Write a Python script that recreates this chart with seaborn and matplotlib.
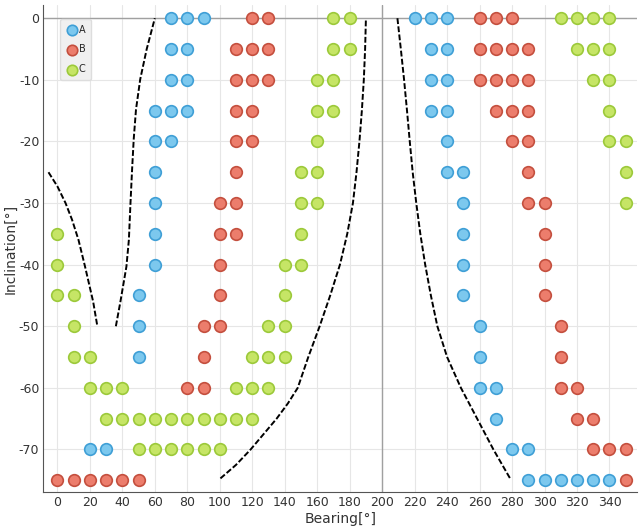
import matplotlib
matplotlib.use("Agg")
import matplotlib.pyplot as plt
import seaborn as sns
import pandas as pd

# Point data: (bearing, inclination)
a_bearing = [70, 80, 90, 220, 230, 240,
             70, 80, 230, 240,
             70, 80, 230, 240,
             60, 70, 80, 230, 240,
             60, 70, 240,
             60, 240, 250,
             60, 250,
             60, 250,
             60, 250,
             50, 250,
             50, 260,
             50, 260,
             260, 270,
             270,
             20, 30, 280, 290,
             290, 300, 310, 320, 330, 340]
a_incl = [0, 0, 0, 0, 0, 0,
          -5, -5, -5, -5,
          -10, -10, -10, -10,
          -15, -15, -15, -15, -15,
          -20, -20, -20,
          -25, -25, -25,
          -30, -30,
          -35, -35,
          -40, -40,
          -45, -45,
          -50, -50,
          -55, -55,
          -60, -60,
          -65,
          -70, -70, -70, -70,
          -75, -75, -75, -75, -75, -75]

b_bearing = [120, 130, 260, 270, 280,
             110, 120, 130, 260, 270, 280, 290,
             110, 120, 130, 260, 270, 280, 290,
             110, 120, 270, 280, 290,
             110, 120, 280, 290,
             110, 290,
             100, 110, 290, 300,
             100, 110, 300,
             100, 300,
             100, 300,
             90, 100, 310,
             90, 310,
             80, 90, 310, 320,
             320, 330,
             330, 340, 350,
             0, 10, 20, 30, 40, 50, 350]
b_incl = [0, 0, 0, 0, 0,
          -5, -5, -5, -5, -5, -5, -5,
          -10, -10, -10, -10, -10, -10, -10,
          -15, -15, -15, -15, -15,
          -20, -20, -20, -20,
          -25, -25,
          -30, -30, -30, -30,
          -35, -35, -35,
          -40, -40,
          -45, -45,
          -50, -50, -50,
          -55, -55,
          -60, -60, -60, -60,
          -65, -65,
          -70, -70, -70,
          -75, -75, -75, -75, -75, -75, -75]

c_bearing = [170, 180, 310, 320, 330, 340,
             170, 180, 320, 330, 340,
             160, 170, 330, 340,
             160, 170, 340,
             160, 340, 350,
             150, 160, 350,
             150, 160, 350,
             0, 150,
             0, 140, 150,
             0, 10, 140,
             10, 130, 140,
             10, 20, 120, 130, 140,
             20, 30, 40, 110, 120, 130,
             30, 40, 50, 60, 70, 80, 90, 100, 110, 120,
             50, 60, 70, 80, 90, 100]
c_incl = [0, 0, 0, 0, 0, 0,
          -5, -5, -5, -5, -5,
          -10, -10, -10, -10,
          -15, -15, -15,
          -20, -20, -20,
          -25, -25, -25,
          -30, -30, -30,
          -35, -35,
          -40, -40, -40,
          -45, -45, -45,
          -50, -50, -50,
          -55, -55, -55, -55, -55,
          -60, -60, -60, -60, -60, -60,
          -65, -65, -65, -65, -65, -65, -65, -65, -65, -65,
          -70, -70, -70, -70, -70, -70]

# Dashed boundary curves
curve1_x = [-5.5, 0, 5, 9, 13, 17, 22, 24.6]
curve1_y = [-25, -27.3, -30, -32.7, -36, -40.3, -46, -50]
curve2_x = [36, 38.8, 42.5, 44, 45, 46, 47, 48.4, 51, 55, 60]
curve2_y = [-50, -46, -40.3, -36, -30, -24.5, -19.6, -14.8, -9.9, -5, 0]
curve3_x = [100.4, 110, 119, 127, 135, 142, 148, 154.5, 161.5, 168, 174,
            178.5, 182, 184.2, 186, 187.5, 188.7, 189.5, 190]
curve3_y = [-74.7, -72.5, -70, -67.5, -65, -62.5, -60, -55, -50, -45, -40,
            -35, -30, -25, -20, -15, -10, -5, 0]
curve4_x = [209.4, 211.5, 213.5, 215.3, 217, 218.8, 221, 223.5, 226.5, 230,
            234, 240, 248.5, 258.5, 268.5, 279]
curve4_y = [0, -5, -10, -15, -20, -25, -30, -35, -40, -45,
            -50, -55, -60, -65, -70, -74.8]

series = [
    ("A", a_bearing, a_incl, "#7cc8ee", "#3f9fd6"),
    ("B", b_bearing, b_incl, "#ec7d6c", "#c44f3e"),
    ("C", c_bearing, c_incl, "#c6e566", "#9cc93a"),
]

sns.set_style("whitegrid", {"grid.color": "#e6e6e6", "axes.edgecolor": "#555555"})
plt.rcParams['font.family'] = ['DejaVu Sans']
plt.rcParams['axes.unicode_minus'] = False

fig = plt.figure(figsize=(6.39, 5.29), dpi=100)
ax = fig.add_axes([0.068, 0.07, 0.929, 0.92])

ax.axhline(0, color="#a0a0a0", lw=1, zorder=1)
ax.axvline(200, color="#a0a0a0", lw=1, zorder=1)

for name, bx, by, fc, ec in series:
    df = pd.DataFrame({"bearing": bx, "inclination": by})
    sns.scatterplot(data=df, x="bearing", y="inclination", ax=ax, color=fc,
                    edgecolor=ec, linewidth=1.2, s=70, label=name, zorder=3)

for cx, cy in [(curve1_x, curve1_y), (curve2_x, curve2_y),
               (curve3_x, curve3_y), (curve4_x, curve4_y)]:
    ax.plot(cx, cy, color="black", ls=(0, (3, 1.2)), lw=1.4, zorder=2)

ax.set_xlim(-8.6, 357)
ax.set_ylim(-76.9, 2.1)
ax.set_xticks(range(0, 341, 20))
ax.set_yticks(range(-70, 1, 10))
ax.tick_params(labelsize=9, colors="#333333", length=0, pad=3)
ax.set_xlabel("Bearing[°]", fontsize=10, color="#333333", labelpad=2)
ax.set_ylabel("Inclination[°]", fontsize=10, color="#333333", labelpad=1)
sns.despine(ax=ax)

leg = ax.legend(loc="upper left", bbox_to_anchor=(0.028, 0.972), borderaxespad=0,
                fontsize=7, frameon=True, handletextpad=0.1, labelspacing=1.0,
                borderpad=0.6, handlelength=1.2, markerscale=0.9)
leg.get_frame().set_facecolor("#f0f0f0")
leg.get_frame().set_edgecolor("#dddddd")
leg.get_frame().set_alpha(1)

plt.savefig("out.png", dpi=100)
